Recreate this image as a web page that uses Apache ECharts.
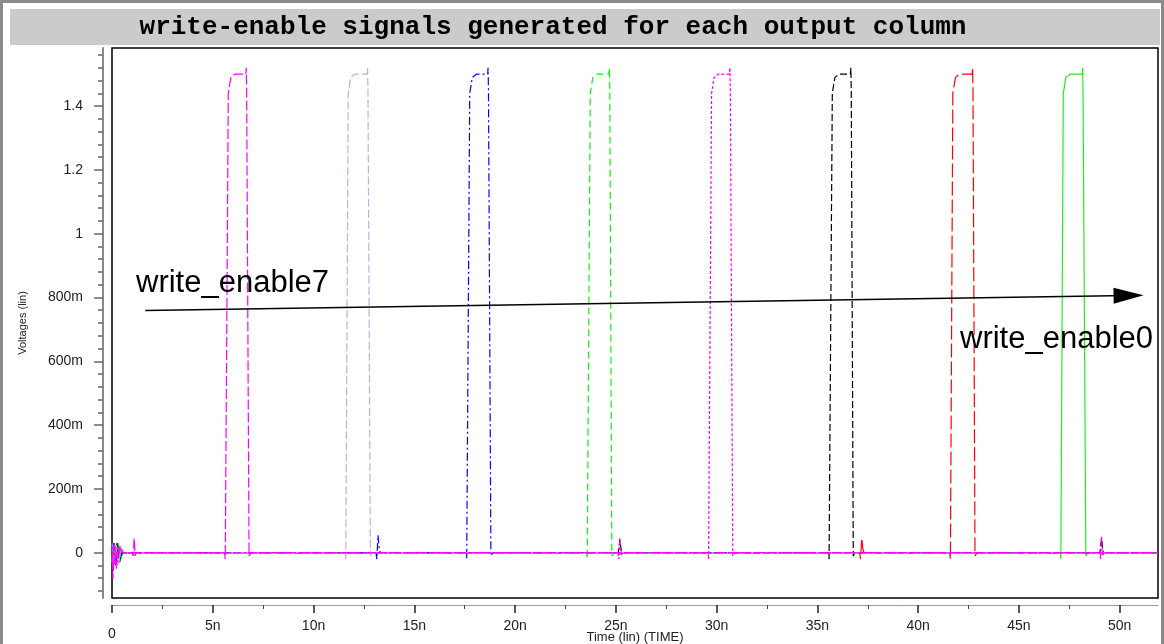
<!DOCTYPE html>
<html>
<head>
<meta charset="utf-8">
<script src="https://cdn.jsdelivr.net/npm/echarts@6/dist/echarts.min.js"></script>
<style>
html,body{margin:0;padding:0;background:#fff;}
#chart{width:1164px;height:644px;}
</style>
</head>
<body>
<div id="chart"></div>
<script>
// ---- Data (time in ns, voltage in V) ----
const titleText = 'write-enable signals generated for each output column';
const xAxisName = 'Time (lin) (TIME)';
const yAxisName = 'Voltages (lin)';

const xTickValues = [0, 5, 10, 15, 20, 25, 30, 35, 40, 45, 50];
const xTickLabels = ['0', '5n', '10n', '15n', '20n', '25n', '30n', '35n', '40n', '45n', '50n'];
const xMinorTicks = [2.5, 7.5, 12.5, 17.5, 22.5, 27.5, 32.5, 37.5, 42.5, 47.5];

const yTickValues = [0, 0.2, 0.4, 0.6, 0.8, 1.0, 1.2, 1.4];
const yTickLabels = ['0', '200m', '400m', '600m', '800m', '1', '1.2', '1.4'];
const yMinorTicks = [-0.12, -0.08, -0.04, 0.04, 0.08, 0.12, 0.16, 0.24, 0.28, 0.32, 0.36,
  0.44, 0.48, 0.52, 0.56, 0.64, 0.68, 0.72, 0.76, 0.84, 0.88, 0.92, 0.96,
  1.04, 1.08, 1.12, 1.16, 1.24, 1.28, 1.32, 1.36, 1.44, 1.48, 1.52, 1.56];

const we7 = [[0,0.02],[0.05,-0.08],[0.12,0.03],[0.22,-0.05],[0.35,0.02],[0.5,0],[1.0,0],[1.05,-0.01],[1.1,0.045],[1.15,-0.01],[1.2,0],
  [5.58,0],[5.62,-0.02],[5.77,1.44],[5.9,1.49],[6.1,1.5],[6.64,1.5],[6.66,1.52],[6.68,1.45],[6.8,-0.01],[6.9,0],[51.9,0]];
const we6 = [[0,0.03],[0.1,-0.03],[0.2,0.02],[0.32,-0.04],[0.45,0.02],[0.55,0],
  [11.57,0],[11.6,-0.02],[11.72,1.44],[11.85,1.49],[12.05,1.5],[12.66,1.5],[12.68,1.52],[12.7,1.45],[12.82,-0.01],[12.92,0],[51.9,0]];
const we5 = [[0,0.01],[0.08,0.03],[0.18,-0.04],[0.3,0.02],[0.42,-0.02],[0.52,0],
  [13.1,0],[13.14,-0.02],[13.2,0.055],[13.26,0.01],[13.32,0],
  [17.57,0],[17.6,-0.02],[17.75,1.44],[17.88,1.49],[18.08,1.5],[18.64,1.5],[18.66,1.52],[18.68,1.45],[18.8,-0.01],[18.9,0],[51.9,0]];
const we4 = [[0,-0.02],[0.1,0.03],[0.2,-0.03],[0.3,0.03],[0.45,-0.02],[0.55,0],
  [23.55,0],[23.58,-0.02],[23.73,1.44],[23.86,1.49],[24.06,1.5],[24.66,1.5],[24.68,1.52],[24.7,1.45],[24.8,-0.01],[24.9,0],[51.9,0]];
const we3 = [[0,0.02],[0.07,-0.05],[0.17,0.02],[0.27,-0.03],[0.4,0.02],[0.5,0],
  [25.1,0],[25.15,-0.02],[25.2,0.045],[25.26,-0.01],[25.32,0],
  [29.57,0],[29.6,-0.02],[29.75,1.44],[29.88,1.49],[30.08,1.5],[30.64,1.5],[30.66,1.52],[30.68,1.45],[30.8,-0.01],[30.9,0],
  [49.0,0],[49.05,-0.02],[49.1,0.05],[49.16,-0.01],[49.22,0],[51.9,0]];
const we2 = [[0,0.03],[0.12,-0.02],[0.25,0.03],[0.38,-0.03],[0.5,0.01],[0.58,0],
  [25.12,0],[25.2,0.04],[25.28,0],
  [35.55,0],[35.58,-0.02],[35.74,1.44],[35.87,1.49],[36.07,1.5],[36.64,1.5],[36.66,1.52],[36.68,1.45],[36.78,-0.01],[36.88,0],
  [49.02,0],[49.1,0.045],[49.18,0],[51.9,0]];
const we1 = [[0,0.01],[0.1,-0.04],[0.22,0.02],[0.34,-0.02],[0.46,0.01],[0.56,0],
  [37.1,0],[37.14,-0.02],[37.2,0.045],[37.26,0.01],[37.32,0],
  [41.57,0],[41.6,-0.02],[41.72,1.44],[41.85,1.49],[42.05,1.5],[42.68,1.5],[42.7,1.52],[42.72,1.45],[42.82,-0.01],[42.92,0],[51.9,0]];
const we0 = [[0,-0.03],[0.1,0.02],[0.2,-0.02],[0.3,0.03],[0.44,-0.01],[0.54,0],
  [47.05,0],[47.08,-0.02],[47.2,1.44],[47.33,1.49],[47.53,1.5],[48.14,1.5],[48.16,1.52],[48.18,1.45],[48.32,-0.01],[48.42,0],[51.9,0]];

const arrowStart = [1.65, 0.759];
const arrowEnd = [50.44, 0.806];
const labelLeft = 'write_enable7';
const labelRight = 'write_enable0';

// ---- Chart ----
const chart = echarts.init(document.getElementById('chart'), null, {renderer: 'canvas'});
const FONT = '"Liberation Sans", Arial, sans-serif';

function mk(name, data, color, dash) {
  return {
    name: name, type: 'line', data: data, xAxisIndex: 0, yAxisIndex: 0,
    showSymbol: false, symbol: 'none', animation: false, silent: true,
    lineStyle: {color: color, width: 1.2, type: dash},
    z: 3
  };
}

const series = [
  mk('write_enable0', we0, '#22ee22', 'solid'),
  mk('write_enable1', we1, '#ff0000', [14, 4]),
  mk('write_enable2', we2, '#000000', [7, 3]),
  mk('write_enable4', we4, '#11ee11', [7, 4]),
  mk('write_enable5', we5, '#0000ff', [8, 3, 2, 3]),
  mk('write_enable6', we6, '#bfaee6', [8, 3]),
  mk('write_enable3', we3, '#ff00ff', [3, 2]),
  mk('write_enable7', we7, '#ff00ff', [10, 3])
];
series[series.length - 1].markLine = {
  silent: true, animation: false,
  symbol: ['none', 'triangle'], symbolSize: [16, 30],
  lineStyle: {color: '#000', width: 1.6, type: 'solid'},
  label: {show: false},
  data: [[{coord: arrowStart}, {coord: arrowEnd}]]
};

const xMin = 0, xMax = 51.9, yMin = -0.142, yMax = 1.582;

chart.setOption({
  animation: false,
  backgroundColor: '#fff',
  grid: {left: 112, top: 48, right: 6, bottom: 46, show: true, borderColor: '#000', borderWidth: 1.5, backgroundColor: '#fff',
    containLabel: false, outerBoundsMode: 'none'},
  xAxis: [
    {
      type: 'value', min: xMin, max: xMax, position: 'bottom', offset: 7,
      axisLine: {show: true, onZero: false, lineStyle: {color: '#999', width: 1}},
      axisTick: {show: true, customValues: xTickValues, length: 8, lineStyle: {color: '#222', width: 1.5}},
      axisLabel: {
        show: true, customValues: xTickValues, margin: 14, color: '#222', fontSize: 14, fontFamily: FONT,
        formatter: function (v) {
          const i = xTickValues.findIndex(t => Math.abs(t - v) < 1e-6);
          const s = i >= 0 ? xTickLabels[i] : '';
          return v === 0 ? '{z|' + s + '}' : s;
        },
        rich: {z: {fontSize: 14, fontFamily: FONT, color: '#222', padding: [8, 0, 0, 0]}}
      },
      splitLine: {show: false},
      name: xAxisName, nameLocation: 'middle', nameGap: 26, nameMoveOverlap: false,
      nameTextStyle: {fontSize: 13, fontFamily: FONT, color: '#222'}
    },
    {
      type: 'value', min: xMin, max: xMax, position: 'bottom', offset: 7,
      axisLine: {show: false, onZero: false},
      axisTick: {show: true, customValues: xMinorTicks, length: 4, lineStyle: {color: '#444', width: 1}},
      axisLabel: {show: false},
      splitLine: {show: false}
    }
  ],
  yAxis: [
    {
      type: 'value', min: yMin, max: yMax, position: 'left', offset: 9,
      axisLine: {show: true, onZero: false, lineStyle: {color: '#888', width: 2}},
      axisTick: {show: true, customValues: yTickValues, length: 9, lineStyle: {color: '#666', width: 1.5}},
      axisLabel: {
        show: true, customValues: yTickValues, margin: 20, color: '#222', fontSize: 14, fontFamily: FONT,
        formatter: function (v) {
          const i = yTickValues.findIndex(t => Math.abs(t - v) < 1e-6);
          return i >= 0 ? yTickLabels[i] : '';
        }
      },
      splitLine: {show: false},
      name: yAxisName, nameLocation: 'middle', nameGap: 75, nameRotate: 90, nameMoveOverlap: false,
      nameTextStyle: {fontSize: 11, fontFamily: FONT, color: '#222'}
    },
    {
      type: 'value', min: yMin, max: yMax, position: 'left', offset: 9,
      axisLine: {show: false, onZero: false},
      axisTick: {show: true, customValues: yMinorTicks, length: 5, lineStyle: {color: '#666', width: 1.5}},
      axisLabel: {show: false},
      splitLine: {show: false}
    }
  ],
  graphic: [
    {type: 'rect', shape: {x: 1.5, y: 1.5, width: 1161, height: 700}, style: {fill: 'none', stroke: '#8a8a8a', lineWidth: 3}, silent: true, z: 100},
    {type: 'rect', shape: {x: 10, y: 9, width: 1150, height: 36}, style: {fill: '#cbcbcb'}, silent: true, z: 90},
    {type: 'text', x: 553, y: 27, style: {text: titleText, font: 'bold 26px "Liberation Mono", "Courier New", monospace', fill: '#000', align: 'center', verticalAlign: 'middle'}, silent: true, z: 95},
    {type: 'text', x: 136, y: 283.5, style: {text: labelLeft, font: '31px "Liberation Sans", Arial, sans-serif', fill: '#000', align: 'left', verticalAlign: 'middle'}, silent: true, z: 95},
    {type: 'text', x: 960, y: 339.5, style: {text: labelRight, font: '31px "Liberation Sans", Arial, sans-serif', fill: '#000', align: 'left', verticalAlign: 'middle'}, silent: true, z: 95}
  ],
  series: series
});
</script>
</body>
</html>
